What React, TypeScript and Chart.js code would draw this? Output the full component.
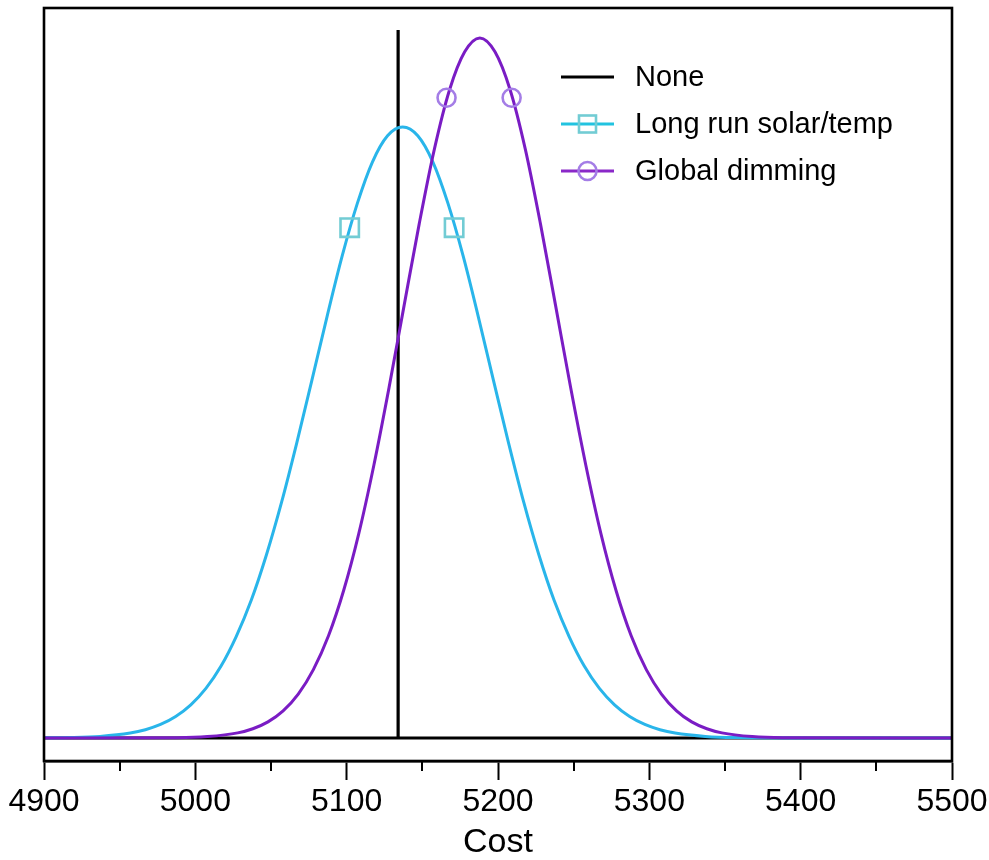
import React, { useEffect, useRef } from "react";
import { Chart, registerables } from "chart.js";

Chart.register(...registerables);

// ---- data ----
const xMin = 4900;
const xMax = 5500;
const tickValues = [4900, 5000, 5100, 5200, 5300, 5400, 5500];
const minorTickValues = [4950, 5050, 5150, 5250, 5350, 5450];

const seriesLabels = ["None", "Long run solar/temp", "Global dimming"];

const noneX = [4900, 5134, 5134, 5134, 5500];
const noneY = [0, 0, 0.97, 0, 0];

const solarX = [4900, 4917, 4937, 4957, 4967, 4977, 4987, 4997, 5007, 5017, 5027, 5037, 5047, 5057, 5067, 5077, 5087, 5097, 5107, 5117, 5127, 5137, 5147, 5157, 5167, 5177, 5187, 5197, 5207, 5217, 5227, 5237, 5247, 5257, 5267, 5277, 5287, 5297, 5307, 5317, 5337, 5357, 5400, 5500];
const solarY = [0.0002, 0.0006, 0.0022, 0.0068, 0.0114, 0.0186, 0.0295, 0.0455, 0.068, 0.0986, 0.139, 0.189, 0.251, 0.323, 0.404, 0.49, 0.577, 0.66, 0.732, 0.789, 0.825, 0.837, 0.825, 0.789, 0.732, 0.66, 0.577, 0.49, 0.404, 0.323, 0.251, 0.189, 0.139, 0.0986, 0.068, 0.0455, 0.0295, 0.0186, 0.0114, 0.0068, 0.0022, 0.0006, 0.0001, 0];

const dimX = [4900, 4988, 5008, 5028, 5038, 5048, 5058, 5068, 5078, 5088, 5098, 5108, 5118, 5128, 5138, 5148, 5158, 5168, 5178, 5188, 5198, 5208, 5218, 5228, 5238, 5248, 5258, 5268, 5278, 5288, 5298, 5308, 5318, 5328, 5338, 5348, 5368, 5388, 5500];
const dimY = [0, 0.0004, 0.0019, 0.007, 0.0127, 0.0221, 0.0372, 0.0602, 0.0937, 0.14, 0.202, 0.28, 0.374, 0.48, 0.593, 0.705, 0.807, 0.888, 0.94, 0.959, 0.94, 0.888, 0.807, 0.705, 0.593, 0.48, 0.374, 0.28, 0.202, 0.14, 0.0937, 0.0602, 0.0372, 0.0221, 0.0127, 0.007, 0.0019, 0.0004, 0];

const solarMarkerX = [5102, 5171];
const solarMarkerY = [0.699, 0.699];
const dimMarkerX = [5166, 5209];
const dimMarkerY = [0.877, 0.877];

// ---- style ----
const FONT = "'Liberation Sans', Arial, Helvetica, sans-serif";
const C_NONE = "#000000";
const C_SOLAR = "#29b5ea";
const C_DIM = "#7a1cc4";
const C_SOLAR_MK = "#72ccd4";
const C_DIM_MK = "#a47de6";
const C_SOLAR_LEG = "#22c3e0";
const C_DIM_LEG = "#8a28c8";

const zip = (xs: number[], ys: number[]) => xs.map((x, i) => ({ x, y: ys[i] }));

const framePlugin = {
  id: "frameAndLegend",
  afterDraw(chart: any) {
    const { ctx, chartArea } = chart;
    const xs = chart.scales.x;
    ctx.save();
    // frame
    ctx.strokeStyle = "#000";
    ctx.lineWidth = 2.6;
    ctx.strokeRect(chartArea.left, chartArea.top, chartArea.right - chartArea.left, chartArea.bottom - chartArea.top);
    // minor ticks
    ctx.lineWidth = 2;
    ctx.beginPath();
    minorTickValues.forEach((v) => {
      const px = Math.round(xs.getPixelForValue(v));
      ctx.moveTo(px, chartArea.bottom);
      ctx.lineTo(px, chartArea.bottom + 10);
    });
    ctx.stroke();

    // legend
    const lx0 = 561;
    const lx1 = 614;
    const mx = (lx0 + lx1) / 2;
    const rows = [
      { y: 77, color: C_NONE, mk: null as null | string, mkColor: "" },
      { y: 124, color: C_SOLAR_LEG, mk: "rect", mkColor: C_SOLAR_MK },
      { y: 171, color: C_DIM_LEG, mk: "circle", mkColor: C_DIM_MK },
    ];
    ctx.font = `29px ${FONT}`;
    ctx.textBaseline = "middle";
    ctx.textAlign = "left";
    rows.forEach((r, i) => {
      ctx.strokeStyle = r.color;
      ctx.lineWidth = 3;
      ctx.beginPath();
      ctx.moveTo(lx0, r.y);
      ctx.lineTo(lx1, r.y);
      ctx.stroke();
      if (r.mk === "rect") {
        ctx.strokeStyle = r.mkColor;
        ctx.lineWidth = 2.6;
        ctx.strokeRect(mx - 8.5, r.y - 8.5, 17, 17);
      } else if (r.mk === "circle") {
        ctx.strokeStyle = r.mkColor;
        ctx.lineWidth = 2.6;
        ctx.beginPath();
        ctx.arc(mx, r.y, 9, 0, Math.PI * 2);
        ctx.stroke();
      }
      ctx.fillStyle = "#000";
      ctx.fillText(chart.data.datasets[i].label, 635, r.y + 1);
    });
    ctx.restore();
  },
};

export default function App() {
  const ref = useRef<HTMLCanvasElement | null>(null);

  useEffect(() => {
    if (!ref.current) return;
    const chart = new Chart(ref.current, {
      type: "line",
      data: {
        datasets: [
          {
            label: seriesLabels[0],
            data: zip(noneX, noneY),
            borderColor: C_NONE,
            borderWidth: 3.2,
            pointRadius: 0,
            tension: 0,
            order: 5,
          },
          {
            label: seriesLabels[1],
            data: zip(solarX, solarY),
            borderColor: C_SOLAR,
            borderWidth: 3,
            pointRadius: 0,
            cubicInterpolationMode: "monotone",
            order: 4,
          },
          {
            label: seriesLabels[2],
            data: zip(dimX, dimY),
            borderColor: C_DIM,
            borderWidth: 3,
            pointRadius: 0,
            cubicInterpolationMode: "monotone",
            order: 3,
          },
          {
            label: seriesLabels[1] + " markers",
            data: zip(solarMarkerX, solarMarkerY),
            showLine: false,
            pointStyle: "rect",
            pointRadius: 13,
            pointBorderWidth: 2.6,
            pointBorderColor: C_SOLAR_MK,
            pointBackgroundColor: "rgba(0,0,0,0)",
            order: 2,
          },
          {
            label: seriesLabels[2] + " markers",
            data: zip(dimMarkerX, dimMarkerY),
            showLine: false,
            pointStyle: "circle",
            pointRadius: 9,
            pointBorderWidth: 2.6,
            pointBorderColor: C_DIM_MK,
            pointBackgroundColor: "rgba(0,0,0,0)",
            order: 1,
          },
        ],
      },
      options: {
        responsive: false,
        animation: false,
        devicePixelRatio: 1,
        layout: { autoPadding: false, padding: { left: 44, right: 37, top: 8, bottom: 0 } },
        plugins: {
          legend: { display: false },
          tooltip: { enabled: false },
        },
        scales: {
          x: {
            type: "linear",
            min: xMin,
            max: xMax,
            afterBuildTicks: (scale: any) => {
              scale.ticks = tickValues.map((v) => ({ value: v }));
            },
            afterFit: (scale: any) => {
              scale.height = 99;
              scale.paddingLeft = 0;
              scale.paddingRight = 0;
              scale.paddingTop = 0;
              scale.paddingBottom = 0;
            },
            grid: {
              drawOnChartArea: false,
              drawTicks: true,
              tickLength: 19,
              tickWidth: 2,
              tickColor: "#000",
              color: "#000",
            },
            border: { display: true, color: "#000", width: 2.6 },
            ticks: {
              color: "#000",
              font: { size: 32, family: FONT },
              padding: 3,
              maxRotation: 0,
              autoSkip: false,
              callback: (v: any) => String(v),
            },
            title: {
              display: true,
              text: "Cost",
              color: "#000",
              font: { size: 34, family: FONT, lineHeight: 1.0 },
              padding: { top: 0, bottom: 0 },
            },
          },
          y: {
            type: "linear",
            display: false,
            min: -0.0315,
            max: 1,
            afterFit: (scale: any) => {
              scale.paddingTop = 0;
              scale.paddingBottom = 0;
            },
          },
        },
      },
      plugins: [framePlugin],
    });
    return () => chart.destroy();
  }, []);

  return (
    <div style={{ position: "absolute", left: 0, top: 0, width: 989, height: 860, background: "#fff" }}>
      <canvas ref={ref} width={989} height={860} style={{ width: 989, height: 860, display: "block" }} />
    </div>
  );
}
